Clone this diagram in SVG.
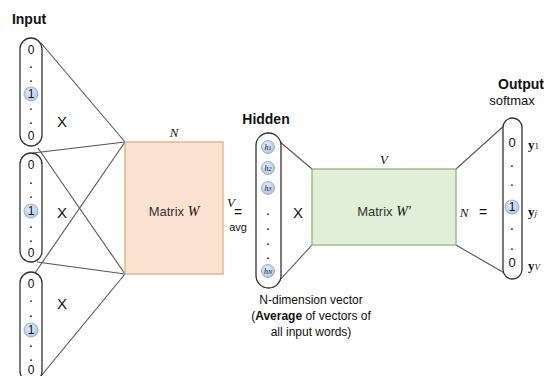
<svg xmlns="http://www.w3.org/2000/svg" width="550" height="376" viewBox="0 0 550 376">
  <defs>
    <radialGradient id="dot" cx="0.4" cy="0.35" r="0.7">
      <stop offset="0" stop-color="#e3eefa"/>
      <stop offset="1" stop-color="#a9c6e6"/>
    </radialGradient>
    <style>
      .col { fill: #ffffff; stroke: #333333; stroke-width: 1.3; }
      .wire { stroke: #555555; stroke-width: 1.1; fill: none; }
      .bit { fill: url(#dot); stroke: #7fa3cc; stroke-width: 0.8; }
      .t { font-family: "Liberation Sans", Arial, sans-serif; fill: #111111; text-anchor: middle; }
      .num { font-size: 12px; }
      .dotc { font-size: 10px; font-weight: bold; }
      .x { font-size: 15px; }
      .title { font-size: 14px; font-weight: bold; }
      .m { font-family: "Liberation Serif", "Times New Roman", serif; font-style: italic; fill: #111111; text-anchor: middle; }
      .cap { font-size: 12px; }
    </style>
  </defs>

  <!-- connectors -->
  <g id="connectors">
    <line class="wire" x1="41" y1="43" x2="125" y2="142"/>
    <line class="wire" x1="38" y1="148" x2="125" y2="274"/>
    <line class="wire" x1="33" y1="153" x2="125" y2="142"/>
    <line class="wire" x1="37" y1="262" x2="125" y2="274"/>
    <line class="wire" x1="35" y1="273" x2="125" y2="142"/>
    <line class="wire" x1="41" y1="376" x2="125" y2="274"/>
    <line class="wire" x1="279" y1="141" x2="312" y2="169"/>
    <line class="wire" x1="279" y1="281" x2="312" y2="245"/>
    <line class="wire" x1="456" y1="169" x2="506" y2="124"/>
    <line class="wire" x1="456" y1="245" x2="506" y2="274"/>
  </g>

  <text class="t title" x="29" y="24">Input</text>

  <!-- input one-hot vector 1 -->
  <g id="input1">
    <rect class="col" x="20" y="38" width="22" height="108" rx="11"/>
    <text class="t num" x="31" y="54">0</text>
    <text class="t dotc" x="31" y="68">.</text>
    <text class="t dotc" x="31" y="82">.</text>
    <circle class="bit" cx="31" cy="94" r="7"/>
    <text class="t num" x="31" y="98">1</text>
    <text class="t dotc" x="31" y="110">.</text>
    <text class="t dotc" x="31" y="124">.</text>
    <text class="t num" x="31" y="140">0</text>
    <text class="t x" x="62" y="127">X</text>
  </g>

  <!-- input one-hot vector 2 -->
  <g id="input2">
    <rect class="col" x="20" y="153" width="22" height="109" rx="11"/>
    <text class="t num" x="31" y="169">0</text>
    <text class="t dotc" x="31" y="184">.</text>
    <text class="t dotc" x="31" y="198">.</text>
    <circle class="bit" cx="31" cy="211" r="7"/>
    <text class="t num" x="31" y="215">1</text>
    <text class="t dotc" x="31" y="228">.</text>
    <text class="t dotc" x="31" y="242">.</text>
    <text class="t num" x="31" y="257">0</text>
    <text class="t x" x="62" y="218">X</text>
  </g>

  <!-- input one-hot vector 3 -->
  <g id="input3">
    <rect class="col" x="20" y="272" width="22" height="110" rx="11"/>
    <text class="t num" x="31" y="288">0</text>
    <text class="t dotc" x="31" y="302">.</text>
    <text class="t dotc" x="31" y="317">.</text>
    <circle class="bit" cx="31" cy="330" r="7"/>
    <text class="t num" x="31" y="334">1</text>
    <text class="t dotc" x="31" y="347">.</text>
    <text class="t dotc" x="31" y="361">.</text>
    <text class="t num" x="31" y="374">0</text>
    <text class="t x" x="62" y="309">X</text>
  </g>

  <!-- input weight matrix -->
  <g id="matrixW">
    <rect x="125" y="142" width="98" height="132" fill="#fce3d1" stroke="#e8a97a" stroke-width="1.3"/>
    <text class="t" x="174" y="216" font-size="13"><tspan fill="#333">Matrix </tspan><tspan class="m" font-size="14">W</tspan></text>
    <text class="m" x="174" y="137" font-size="13">N</text>
    <text class="m" x="231" y="207" font-size="13">V</text>
    <text class="t" x="238" y="217" font-size="14">=</text>
    <text class="t" x="238" y="231" font-size="11">avg</text>
  </g>

  <!-- hidden layer -->
  <g id="hidden">
    <text class="t title" x="266" y="124" font-size="15">Hidden</text>
    <rect class="col" x="256" y="133" width="25" height="155" rx="12.5"/>
    <circle class="bit" cx="268" cy="147" r="6.5"/>
    <text class="m" x="268" y="150" font-size="8" fill="#445">h<tspan font-size="6">1</tspan></text>
    <circle class="bit" cx="268" cy="168" r="6.5"/>
    <text class="m" x="268" y="171" font-size="8" fill="#445">h<tspan font-size="6">2</tspan></text>
    <circle class="bit" cx="268" cy="188" r="6.5"/>
    <text class="m" x="268" y="191" font-size="8" fill="#445">h<tspan font-size="6">3</tspan></text>
    <text class="t dotc" x="268" y="215">.</text>
    <text class="t dotc" x="268" y="230">.</text>
    <text class="t dotc" x="268" y="245">.</text>
    <text class="t dotc" x="268" y="259">.</text>
    <circle class="bit" cx="268" cy="271" r="6.5"/>
    <text class="m" x="268" y="274" font-size="8" fill="#445">h<tspan font-size="6">N</tspan></text>
    <text class="t x" x="298" y="218">X</text>
    <text class="t cap" x="311" y="304">N-dimension vector</text>
    <text class="t cap" x="311" y="320">(<tspan font-weight="bold">Average</tspan> of vectors of</text>
    <text class="t cap" x="311" y="336">all input words)</text>
  </g>

  <!-- output weight matrix -->
  <g id="matrixW2">
    <rect x="312" y="169" width="144" height="76" fill="#e1efd8" stroke="#8fb47a" stroke-width="1.3"/>
    <text class="t" x="384" y="216" font-size="13"><tspan fill="#333">Matrix </tspan><tspan class="m" font-size="14">W'</tspan></text>
    <text class="m" x="384" y="164" font-size="13">V</text>
    <text class="m" x="464" y="217" font-size="13">N</text>
    <text class="t" x="483" y="217" font-size="14">=</text>
  </g>

  <!-- output layer -->
  <g id="output">
    <text class="t title" x="521" y="89" font-size="15">Output</text>
    <text class="t" x="512" y="105" font-size="13">softmax</text>
    <rect class="col" x="503" y="118" width="19" height="161" rx="9.5"/>
    <text class="t" x="512" y="147" font-size="13">0</text>
    <text class="t dotc" x="512" y="167">.</text>
    <text class="t dotc" x="512" y="186">.</text>
    <circle class="bit" cx="512" cy="207" r="7"/>
    <text class="t num" x="512" y="211">1</text>
    <text class="t dotc" x="512" y="230">.</text>
    <text class="t dotc" x="512" y="250">.</text>
    <text class="t" x="512" y="267" font-size="13">0</text>
    <text x="528" y="149" font-family="Liberation Serif, serif" font-weight="bold" font-size="13" fill="#111">y<tspan font-weight="normal" font-size="9">1</tspan></text>
    <text x="528" y="216" font-family="Liberation Serif, serif" font-weight="bold" font-size="13" fill="#111">y<tspan font-weight="normal" font-style="italic" font-size="9">j</tspan></text>
    <text x="528" y="270" font-family="Liberation Serif, serif" font-weight="bold" font-size="13" fill="#111">y<tspan font-weight="normal" font-style="italic" font-size="9">V</tspan></text>
  </g>
</svg>
